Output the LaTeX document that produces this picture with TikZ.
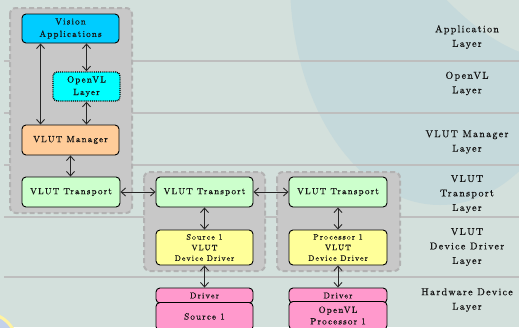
\documentclass[tikz,border=0pt]{standalone}
\usepackage{fontspec}
\newfontfamily\lbl[LetterSpace=13,FakeBold=0.7]{lmroman10-regular.otf}
\usetikzlibrary{arrows.meta}
\definecolor{bglight}{HTML}{D3E0DC}
\definecolor{bgdark}{HTML}{C5D9DB}
\definecolor{cornerblue}{HTML}{C3D1EA}
\definecolor{corneryel}{HTML}{FFF3A0}
\definecolor{laycol}{HTML}{BEBEBE}
\definecolor{grpfill}{HTML}{C8C8C8}
\definecolor{grpline}{HTML}{B2B2B2}
\definecolor{appblue}{HTML}{00CCFF}
\definecolor{ovlcyan}{HTML}{00FFFF}
\definecolor{peach}{HTML}{FFCC99}
\definecolor{mint}{HTML}{CCFFCC}
\definecolor{lyellow}{HTML}{FFFF99}
\definecolor{pink}{HTML}{FF99CC}
\definecolor{txt}{HTML}{141414}
\tikzset{
  box/.style={draw=black, line width=0.9pt, rounded corners=4pt, inner sep=0pt, align=center, text=txt,
    font=\lbl\fontsize{9}{12.5}\selectfont},
  smallbox/.style={box, font=\lbl\fontsize{8}{10.6}\selectfont},
  grp/.style={fill=grpfill, draw=grpline, line width=2pt, dash pattern=on 5pt off 3pt, rounded corners=6pt},
  lay/.style={draw=laycol, line width=2pt},
  arr/.style={{Straight Barb[length=4.5pt,width=8pt]}-{Straight Barb[length=4.5pt,width=8pt]}, line width=0.9pt, draw=black!85},
  laylbl/.style={align=center, text=txt, inner sep=0pt, font=\lbl\fontsize{10}{14.5}\selectfont}
}
\begin{document}
\begin{tikzpicture}[x=1pt,y=-1pt]
\useasboundingbox (0,0) rectangle (519,327);
\clip (0,0) rectangle (519,327);
% background
\fill[bglight] (0,0) rectangle (519,327);
\fill[bgdark] (440,-20) ellipse [x radius=150, y radius=225];
\fill[bglight] (446,-1) .. controls (470,24) and (495,42) .. (520,52) -- (520,-1) -- cycle;
\fill[cornerblue, draw=corneryel, line width=3pt] (-15,345) circle [radius=32];
% layer lines
\foreach \yy in {61,113,165,217,277} \draw[lay] (4,\yy) -- (519,\yy);
% groups
\draw[grp] (10,8) rectangle (132,213);
\draw[grp] (144,172) rectangle (265,271);
\draw[grp] (277,172) rectangle (400,271);
% nodes
\node[box, fill=appblue, minimum width=97pt, minimum height=29pt] (va) at (70.5,28.5) {Vision\\Applications};
\node[box, fill=ovlcyan, minimum width=67pt, minimum height=29pt, densely dotted, line width=1.4pt] (ovl) at (86.5,86.5) {OpenVL\\Layer};
\node[box, fill=peach, minimum width=97pt, minimum height=30pt] (mgr) at (70.5,140) {VLUT Manager};
\node[box, fill=mint, minimum width=98pt, minimum height=30pt] (t1) at (71,192) {VLUT Transport};
\node[box, fill=mint, minimum width=97pt, minimum height=30pt] (t2) at (204.5,192) {VLUT Transport};
\node[box, fill=mint, minimum width=98pt, minimum height=30pt] (t3) at (338,192) {VLUT Transport};
\node[smallbox, fill=lyellow, minimum width=97pt, minimum height=35pt] (dd1) at (204.5,247.5) {Source 1\\VLUT\\Device Driver};
\node[smallbox, fill=lyellow, minimum width=98pt, minimum height=35pt] (dd2) at (338,247.5) {Processor 1\\VLUT\\Device Driver};
\node[box, fill=pink, minimum width=97pt, minimum height=15pt, font=\lbl\fontsize{8.5}{10}\selectfont] (drv1) at (204.5,295.5) {Driver};
\node[box, fill=pink, minimum width=98pt, minimum height=15pt, font=\lbl\fontsize{8.5}{10}\selectfont] (drv2) at (338,295.5) {Driver};
\node[box, fill=pink, minimum width=97pt, minimum height=28pt] (src1) at (204.5,316.5) {Source 1};
\node[box, fill=pink, minimum width=98pt, minimum height=28pt, font=\lbl\fontsize{9}{11.5}\selectfont] (proc1) at (338,315.5) {OpenVL\\Processor 1};
% connectors
\draw[arr] ([xshift=19pt]va.south west) -- ([xshift=19pt]mgr.north west);
\draw[arr] (va.south -| ovl.north) -- (ovl.north);
\draw[arr] (ovl.south) -- (mgr.north -| ovl.south);
\draw[arr] (mgr.south) -- (t1.north -| mgr.south);
\draw[arr] (t1.east) -- (t2.west);
\draw[arr] (t2.east) -- (t3.west);
\draw[arr] (t2.south) -- (dd1.north);
\draw[arr] (dd1.south) -- (drv1.north);
\draw[arr] (t3.south) -- (dd2.north);
\draw[arr] (dd2.south) -- (drv2.north);
% layer labels
\node[laylbl] (lapp) at (467,37) {Application\\Layer};
\node[laylbl] (lovl) at (467,83.5) {OpenVL\\Layer};
\node[laylbl] (lmgr) at (467,142) {VLUT Manager\\Layer};
\node[laylbl] (ltr) at (467,194) {VLUT\\Transport\\Layer};
\node[laylbl] (ldd) at (467,247) {VLUT\\Device Driver\\Layer};
\node[laylbl] (lhw) at (467,300) {Hardware Device\\Layer};
\end{tikzpicture}
\end{document}
